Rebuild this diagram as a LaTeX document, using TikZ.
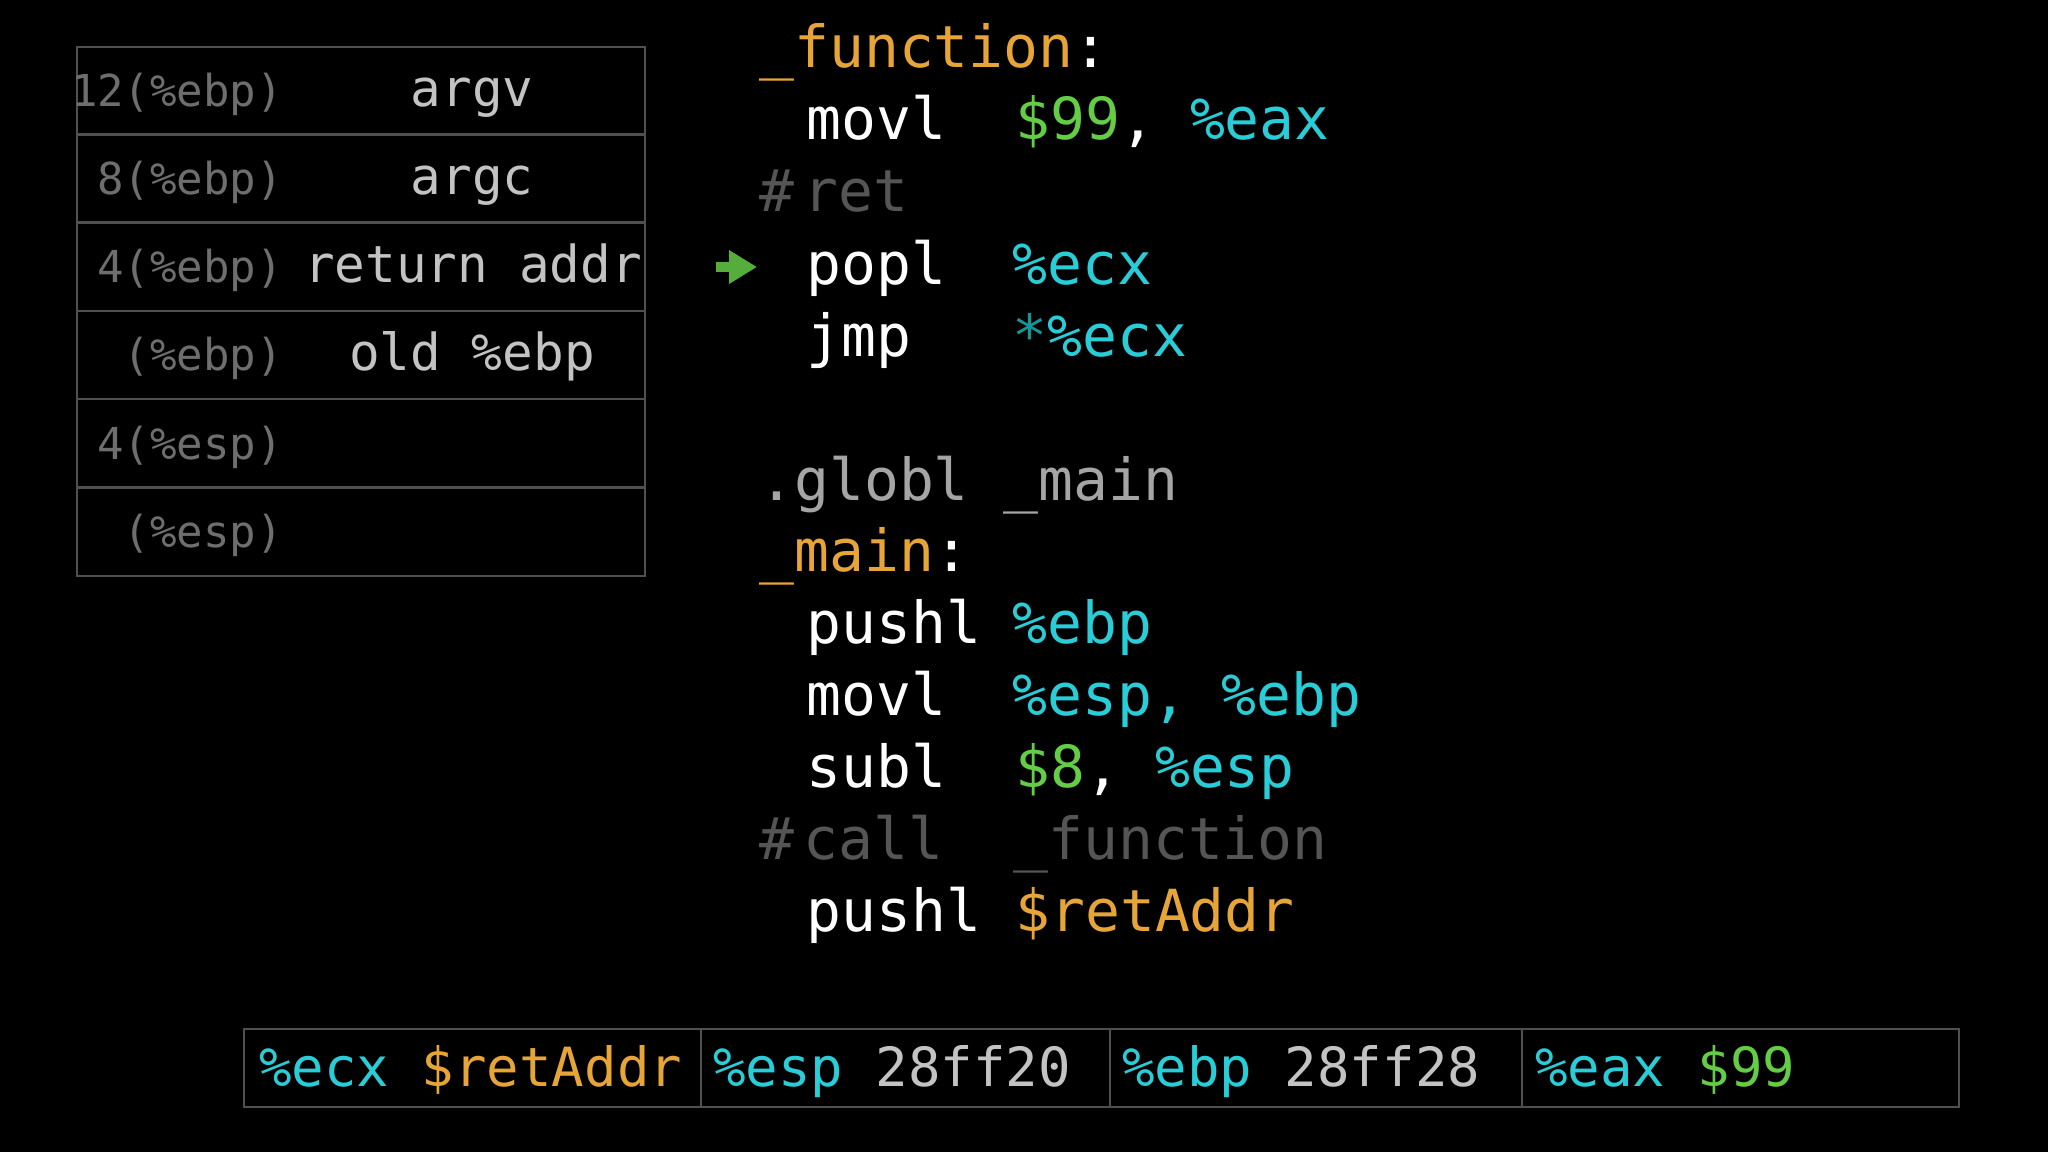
\documentclass[tikz,border=0pt]{standalone}
\usepackage{fontspec}
\usetikzlibrary{arrows.meta}
\setmonofont{DejaVu Sans Mono}
\definecolor{cy}{RGB}{40,205,215}
\definecolor{gr}{RGB}{100,205,70}
\definecolor{orn}{RGB}{232,165,55}
\definecolor{cmt}{RGB}{85,85,85}
\definecolor{lbl}{RGB}{110,110,110}
\definecolor{val}{RGB}{195,195,195}
\definecolor{glb}{RGB}{165,165,165}
\definecolor{tl}{RGB}{20,150,150}
\definecolor{bd}{RGB}{80,80,80}
\begin{document}
\begin{tikzpicture}[x=0.5pt,y=-0.5pt,font=\ttfamily,
  cell/.style={draw=bd,line width=0.8pt,minimum width=284pt,minimum height=44pt,inner sep=0pt,anchor=north west},
  bcell/.style={draw=bd,line width=0.8pt,minimum height=39pt,inner sep=0pt,anchor=north west},
  lab/.style={text=lbl,font=\ttfamily\fontsize{22}{22}\selectfont,anchor=mid east,yshift=-6pt},
  vl/.style={text=val,font=\ttfamily\fontsize{25.5}{25.5}\selectfont,anchor=mid,yshift=-6pt},
  code/.style={text=white,font=\ttfamily\fontsize{29}{29}\selectfont,anchor=mid west,inner sep=0pt,yshift=-7.5pt},
  bar/.style={font=\ttfamily\fontsize{27}{27}\selectfont,anchor=mid west,inner sep=0pt,yshift=-7pt}]
\fill[black] (0,0) rectangle (2048,1152);
\useasboundingbox (0,0) rectangle (2048,1152);
% stack table
\node[cell] (c1) at (76,46) {};
\node[cell] (c2) at (76,133) {};
\node[cell] (c3) at (76,222) {};
\node[cell] (c4) at (76,310) {};
\node[cell] (c5) at (76,398) {};
\node[cell] (c6) at (76,487) {};
\node[lab] (l1) at (290,90) {12(\%ebp)};
\node[lab] (l2) at (290,178) {8(\%ebp)};
\node[lab] (l3) at (290,266) {4(\%ebp)};
\node[lab] (l4) at (290,354) {(\%ebp)};
\node[lab] (l5) at (290,443) {4(\%esp)};
\node[lab] (l6) at (290,531) {(\%esp)};
\node[vl] (v1) at (472,90) {argv};
\node[vl] (v2) at (472,178) {argc};
\node[vl] (v3) at (473,266) {return addr};
\node[vl] (v4) at (472,354) {old \%ebp};
% code
\node[code] (f) at (759,48) {\textcolor{orn}{\_function}:};
\node[code] (m1) at (806,120) {movl};
\node[code] (m1o) at (1015,120) {\textcolor{gr}{\$99}, \textcolor{cy}{\%eax}};
\node[code,text=cmt] (cr) at (759,192) {\#\,ret};
\node[code] (p1) at (806,265) {popl};
\node[code,text=cy] (p1o) at (1012,265) {\%ecx};
\node[code] (j1) at (806,337) {jmp};
\node[code,text=cy] (j1o) at (1012,337) {\textcolor{tl}{*}\%ecx};
\node[code,text=glb] (g) at (759,481) {.globl \_main};
\node[code] (mn) at (759,552) {\textcolor{orn}{\_main}:};
\node[code] (ps) at (806,624) {pushl};
\node[code,text=cy] (pso) at (1012,624) {\%ebp};
\node[code] (mv) at (806,696) {movl};
\node[code,text=cy] (mvo) at (1012,696) {\%esp, \%ebp};
\node[code] (sb) at (806,768) {subl};
\node[code] (sbo) at (1015,768) {\textcolor{gr}{\$8}, \textcolor{cy}{\%esp}};
\node[code,text=cmt] (cc) at (759,840) {\#\,call~~\_function};
\node[code] (pr) at (806,912) {pushl};
\node[code,text=orn] (pro) at (1015,912) {\$retAddr};
\coordinate (as) at (716,267);
\coordinate (ae) at (757,267);
\draw[gr!85!black,line width=5pt,-{Triangle[length=14pt,width=16pt]}] (as) -- (ae);
% register bar
\node[bcell,minimum width=228.5pt] (b1) at (243,1028) {};
\node[bcell,minimum width=204.5pt] (b2) at (700,1028) {};
\node[bcell,minimum width=206pt] (b3) at (1109,1028) {};
\node[bcell,minimum width=218.5pt] (b4) at (1521,1028) {};
\node[bar] (t1) at (259,1068) {\textcolor{cy}{\%ecx} \textcolor{orn}{\$retAddr}};
\node[bar] (t2) at (713,1068) {\textcolor{cy}{\%esp} \textcolor{val}{28ff20}};
\node[bar] (t3) at (1122,1068) {\textcolor{cy}{\%ebp} \textcolor{val}{28ff28}};
\node[bar] (t4) at (1535,1068) {\textcolor{cy}{\%eax} \textcolor{gr}{\$99}};
\end{tikzpicture}
\end{document}
